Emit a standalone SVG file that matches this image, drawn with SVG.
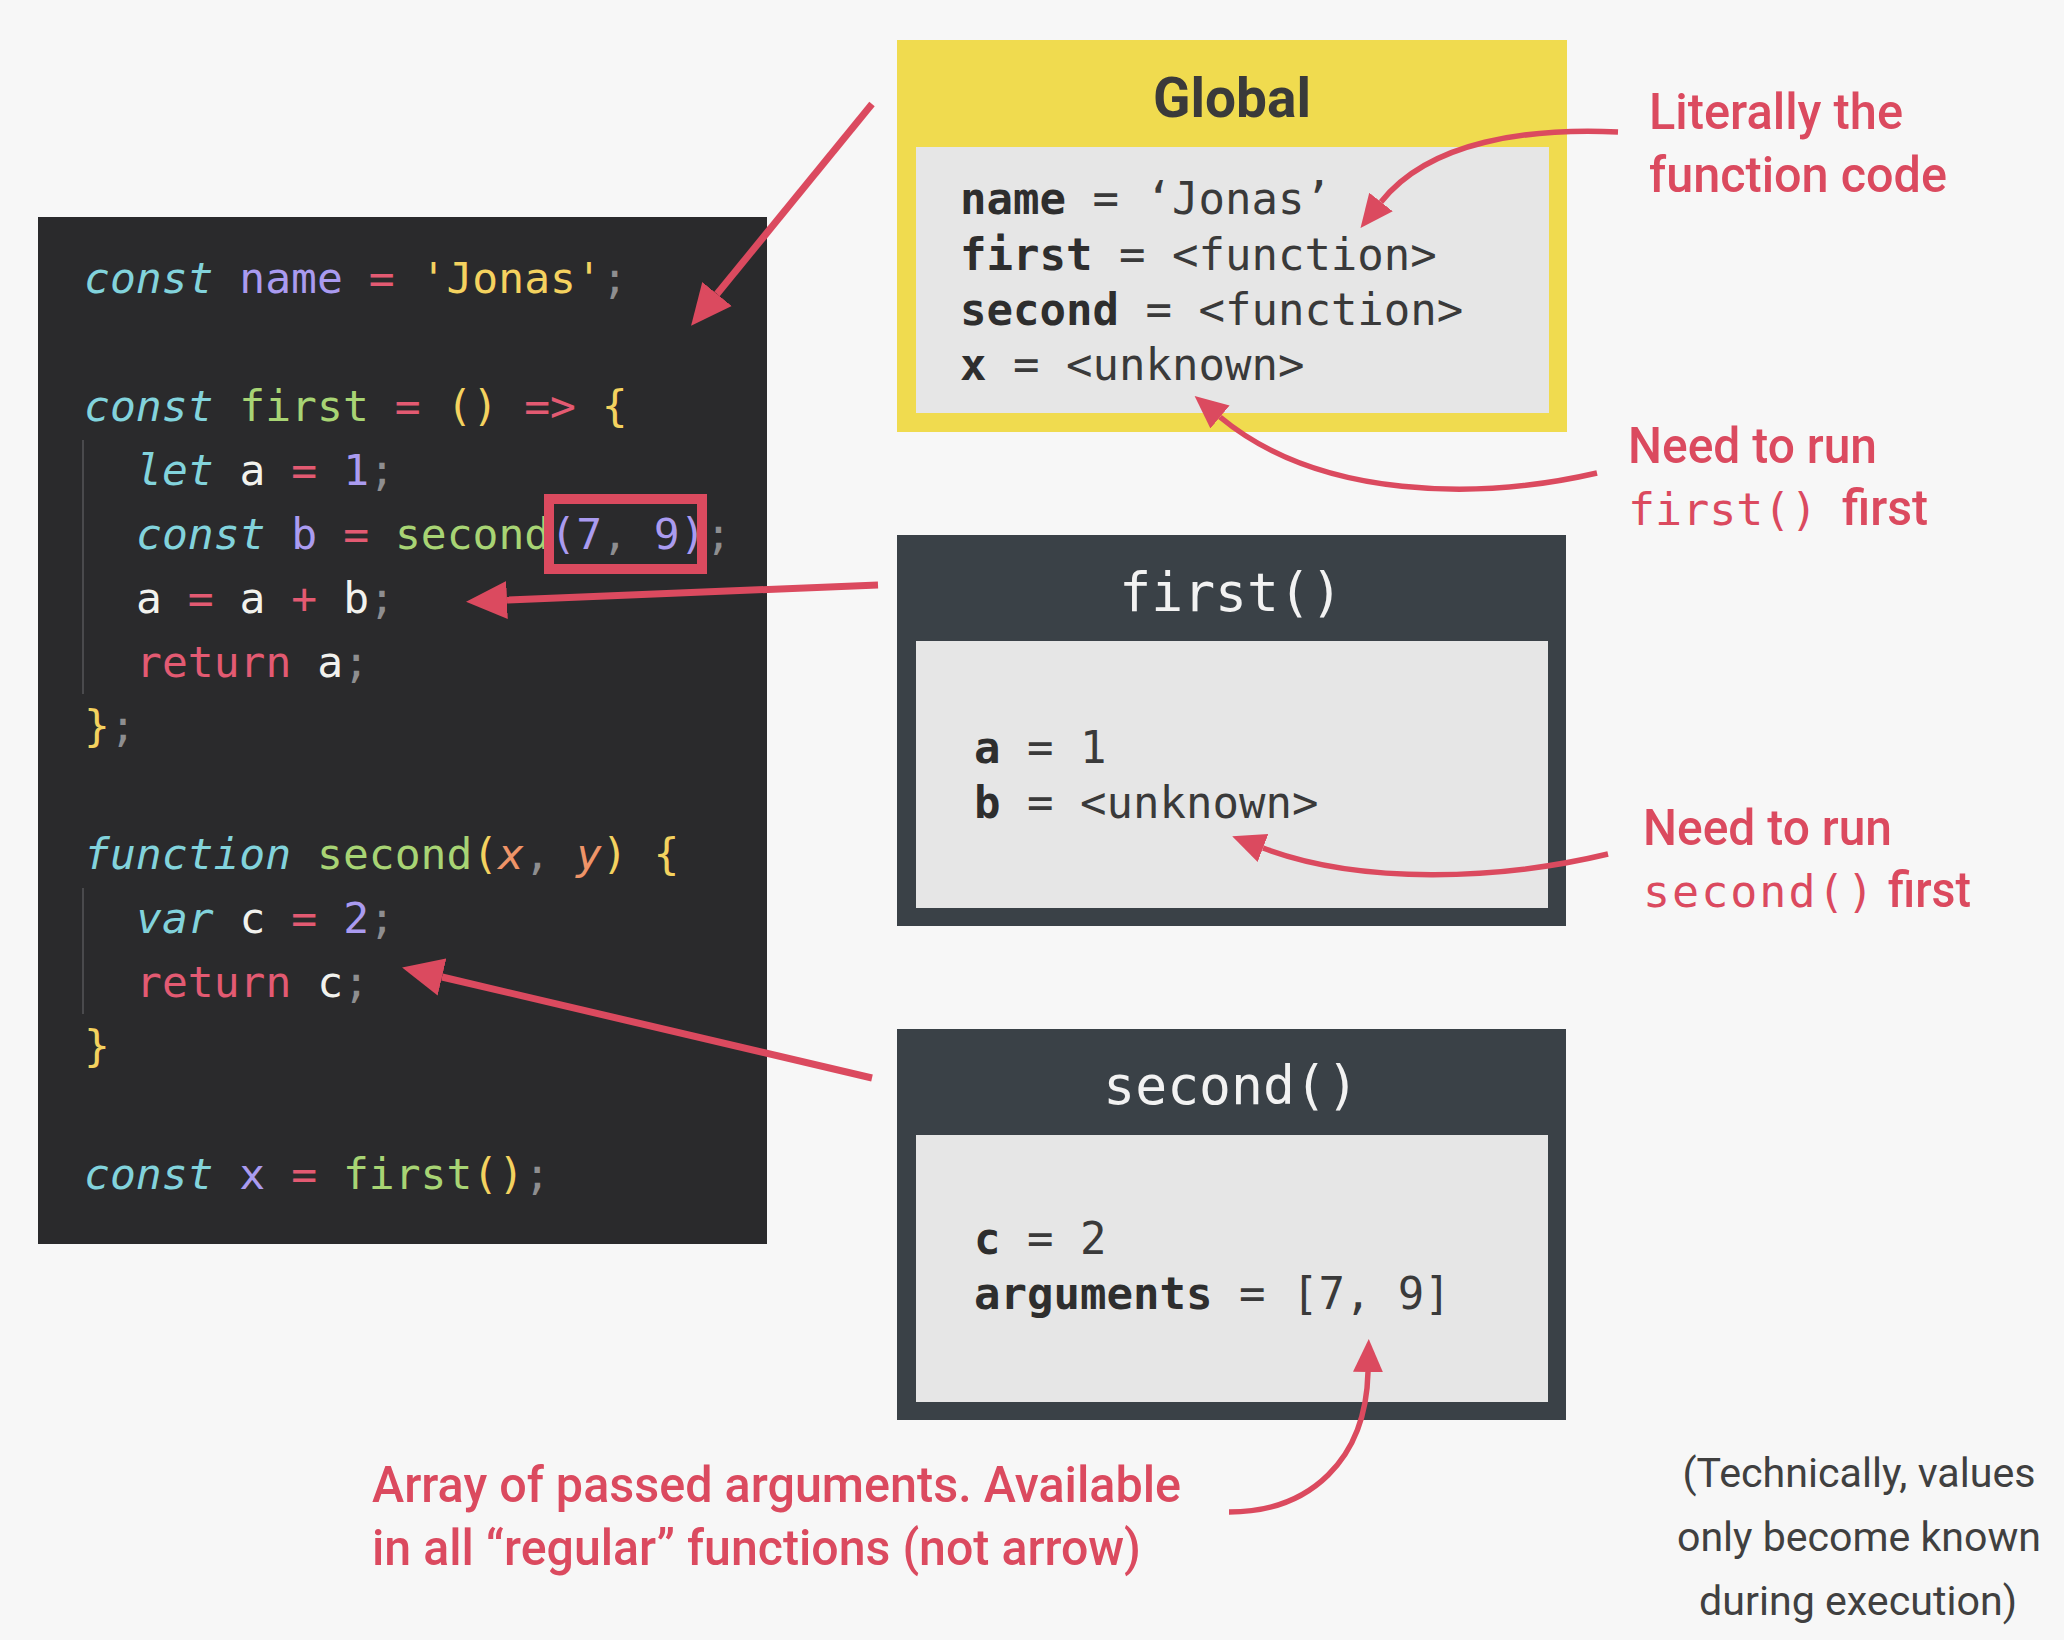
<svg xmlns="http://www.w3.org/2000/svg" width="2064" height="1640" viewBox="0 0 2064 1640">
<defs>
<style>
.code{font-family:"DejaVu Sans Mono","Liberation Mono",monospace;font-size:43px;white-space:pre}
.k{fill:#82d3dc;font-style:italic}
.v{fill:#aa9bf0}
.p{fill:#e35a72}
.s{fill:#f4d25f}
.g{fill:#a8d474}
.w{fill:#f2f2ee}
.c{fill:#8e8e90}
.o{fill:#ef9468;font-style:italic}
.vars{font-family:"DejaVu Sans Mono","Liberation Mono",monospace;font-size:44px;fill:#3a3a3a;white-space:pre}
.vars .b{font-weight:bold;fill:#2e2e2e}
.title{font-family:"DejaVu Sans Mono","Liberation Mono",monospace;font-size:53px;fill:#f2f2f2;text-anchor:middle}
.note{font-family:Roboto,"Liberation Sans",sans-serif;font-weight:500;font-size:50px;fill:#db4a5f}
.notemono{font-family:"DejaVu Sans Mono","Liberation Mono",monospace;font-size:45px;fill:#db4a5f;white-space:pre}
.gray{font-family:Roboto,"Liberation Sans",sans-serif;font-size:40px;fill:#404040;text-anchor:middle}
.arrow{fill:none;stroke:#db4a5f;stroke-width:7}
.curve{fill:none;stroke:#db4a5f;stroke-width:5.5}
</style>
<marker id="head" markerUnits="userSpaceOnUse" markerWidth="42" markerHeight="40" refX="0" refY="20" orient="auto" viewBox="0 0 42 40">
<path d="M0,1 L41,20 L0,39 z" fill="#db4a5f"/>
</marker>
<marker id="head2" markerUnits="userSpaceOnUse" markerWidth="34" markerHeight="32" refX="0" refY="16" orient="auto" viewBox="0 0 34 32">
<path d="M0,1 L33,16 L0,31 z" fill="#db4a5f"/>
</marker>
</defs>
<rect x="0" y="0" width="2064" height="1640" fill="#f7f7f7"/>

<g id="code">
<rect x="38" y="217" width="729" height="1027" fill="#2a2a2c"/>
<line x1="83" y1="440" x2="83" y2="694" stroke="#4a4a4d" stroke-width="2"/>
<line x1="83" y1="888" x2="83" y2="1014" stroke="#4a4a4d" stroke-width="2"/>
<text class="code" x="84" y="293"><tspan class="k">const</tspan> <tspan class="v">name</tspan> <tspan class="p">=</tspan> <tspan class="s">'Jonas'</tspan><tspan class="c">;</tspan></text>
<text class="code" x="84" y="421"><tspan class="k">const</tspan> <tspan class="g">first</tspan> <tspan class="p">=</tspan> <tspan class="s">()</tspan> <tspan class="p">=&gt;</tspan> <tspan class="s">{</tspan></text>
<text class="code" x="136" y="485"><tspan class="k">let</tspan> <tspan class="w">a</tspan> <tspan class="p">=</tspan> <tspan class="v">1</tspan><tspan class="c">;</tspan></text>
<text class="code" x="136" y="549"><tspan class="k">const</tspan> <tspan class="v">b</tspan> <tspan class="p">=</tspan> <tspan class="g">second</tspan><tspan class="v">(7</tspan><tspan class="c">,</tspan> <tspan class="v">9)</tspan><tspan class="c">;</tspan></text>
<text class="code" x="136" y="613"><tspan class="w">a</tspan> <tspan class="p">=</tspan> <tspan class="w">a</tspan> <tspan class="p">+</tspan> <tspan class="w">b</tspan><tspan class="c">;</tspan></text>
<text class="code" x="136" y="677"><tspan class="p">return</tspan> <tspan class="w">a</tspan><tspan class="c">;</tspan></text>
<text class="code" x="84" y="741"><tspan class="s">}</tspan><tspan class="c">;</tspan></text>
<text class="code" x="84" y="869"><tspan class="k">function</tspan> <tspan class="g">second</tspan><tspan class="s">(</tspan><tspan class="o">x</tspan><tspan class="c">,</tspan> <tspan class="o">y</tspan><tspan class="s">)</tspan> <tspan class="s">{</tspan></text>
<text class="code" x="136" y="933"><tspan class="k">var</tspan> <tspan class="w">c</tspan> <tspan class="p">=</tspan> <tspan class="v">2</tspan><tspan class="c">;</tspan></text>
<text class="code" x="136" y="997"><tspan class="p">return</tspan> <tspan class="w">c</tspan><tspan class="c">;</tspan></text>
<text class="code" x="84" y="1061"><tspan class="s">}</tspan></text>
<text class="code" x="84" y="1189"><tspan class="k">const</tspan> <tspan class="v">x</tspan> <tspan class="p">=</tspan> <tspan class="g">first</tspan><tspan class="s">()</tspan><tspan class="c">;</tspan></text>
<rect x="549" y="499" width="153" height="70" fill="none" stroke="#db4a5f" stroke-width="10"/>
</g>

<g id="global">
<rect x="897" y="40" width="670" height="392" fill="#f0db4f"/>
<rect x="916" y="147" width="633" height="266" fill="#e6e6e6"/>
<text x="1232" y="117" text-anchor="middle" font-family="Roboto,'Liberation Sans',sans-serif" font-weight="bold" font-size="55" fill="#3a3a3a">Global</text>
<text class="vars" x="960" y="214"><tspan class="b">name</tspan> = ‘Jonas’</text>
<text class="vars" x="960" y="270"><tspan class="b">first</tspan> = &lt;function&gt;</text>
<text class="vars" x="960" y="325"><tspan class="b">second</tspan> = &lt;function&gt;</text>
<text class="vars" x="960" y="380"><tspan class="b">x</tspan> = &lt;unknown&gt;</text>
</g>

<g id="first">
<rect x="897" y="535" width="669" height="391" fill="#3a4147"/>
<rect x="916" y="641" width="632" height="267" fill="#e6e6e6"/>
<text class="title" x="1231" y="611">first()</text>
<text class="vars" x="974" y="763"><tspan class="b">a</tspan> = 1</text>
<text class="vars" x="974" y="818"><tspan class="b">b</tspan> = &lt;unknown&gt;</text>
</g>

<g id="second">
<rect x="897" y="1029" width="669" height="391" fill="#3a4147"/>
<rect x="916" y="1135" width="632" height="267" fill="#e6e6e6"/>
<text class="title" x="1231" y="1104">second()</text>
<text class="vars" x="974" y="1254"><tspan class="b">c</tspan> = 2</text>
<text class="vars" x="974" y="1309"><tspan class="b">arguments</tspan> = [7, 9]</text>
</g>

<g id="notes">
<text class="note" x="1649" y="129" textLength="254" lengthAdjust="spacingAndGlyphs">Literally the</text>
<text class="note" x="1649" y="192" textLength="298" lengthAdjust="spacingAndGlyphs">function code</text>
<text class="note" x="1628" y="463" textLength="249" lengthAdjust="spacingAndGlyphs">Need to run</text>
<text class="notemono" x="1628" y="525">first()</text>
<text class="note" x="1842" y="525" textLength="86" lengthAdjust="spacingAndGlyphs">first</text>
<text class="note" x="1643" y="845" textLength="249" lengthAdjust="spacingAndGlyphs">Need to run</text>
<text class="notemono" x="1643" y="907" letter-spacing="2">second()</text>
<text class="note" x="1888" y="907" textLength="83" lengthAdjust="spacingAndGlyphs">first</text>
<text class="note" x="372" y="1502" font-size="49" textLength="809" lengthAdjust="spacingAndGlyphs">Array of passed arguments. Available</text>
<text class="note" x="372" y="1565" font-size="49" textLength="769" lengthAdjust="spacingAndGlyphs">in all “regular” functions (not arrow)</text>
<text class="gray" x="1859" y="1487" textLength="353" lengthAdjust="spacingAndGlyphs">(Technically, values</text>
<text class="gray" x="1859" y="1551" textLength="364" lengthAdjust="spacingAndGlyphs">only become known</text>
<text class="gray" x="1858" y="1615" textLength="318" lengthAdjust="spacingAndGlyphs">during execution)</text>
</g>

<g id="connectors">
<path class="arrow" d="M872,104 L717,294" marker-end="url(#head)"/>
<path class="arrow" d="M878,585 L507,600" marker-end="url(#head)"/>
<path class="arrow" d="M872,1078 L442,977" marker-end="url(#head)"/>
<path class="curve" d="M1618,132 C1530,128 1430,140 1381,202" marker-end="url(#head2)"/>
<path class="curve" d="M1597,473 C1480,500 1320,500 1220,417" marker-end="url(#head2)"/>
<path class="curve" d="M1608,854 C1500,880 1360,885 1263,848" marker-end="url(#head2)"/>
<path class="curve" d="M1229,1512 C1310,1512 1366,1460 1368,1372" marker-end="url(#head2)"/>
</g>
</svg>
